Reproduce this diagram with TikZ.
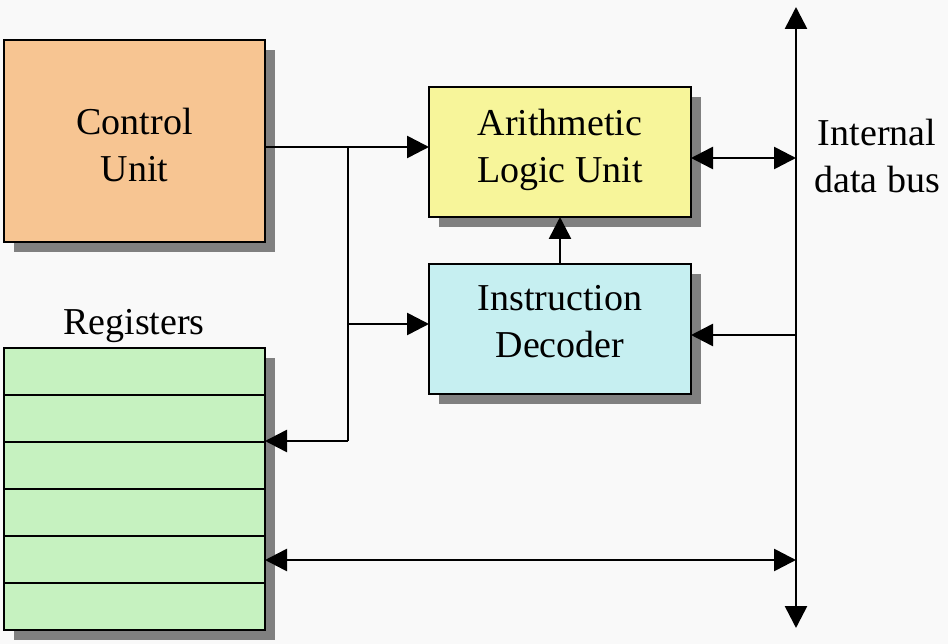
\documentclass[tikz,border=0pt]{standalone}
\usepackage{fontspec}
\setmainfont{Liberation Serif}
\usetikzlibrary{arrows.meta,shadows,calc}
\definecolor{bgc}{HTML}{F9F9F9}
\definecolor{cuorange}{HTML}{F7C592}
\definecolor{aluyellow}{HTML}{F7F59A}
\definecolor{idcyan}{HTML}{C6EFF1}
\definecolor{reggreen}{HTML}{C6F2C0}
\definecolor{shadowgray}{HTML}{808080}
\begin{document}
\begin{tikzpicture}[x=1pt,y=-1pt,line width=2.6pt,
  box/.style={draw=black,line width=2.6pt,rectangle,inner sep=0pt,outer sep=0pt,
    general shadow={fill=shadowgray,shadow xshift=10pt,shadow yshift=-10pt}},
  lbl/.style={font=\fontsize{38}{47}\selectfont,align=center,inner sep=0pt},
  tip/.style={-{Triangle[length=22pt,width=22pt]}},
  bitip/.style={{Triangle[length=22pt,width=22pt]}-{Triangle[length=22pt,width=22pt]}}
]
\fill[bgc] (0,0) rectangle (948,644);
\useasboundingbox (0,0) rectangle (948,644);

% boxes
\node[box,fill=cuorange,minimum width=261pt,minimum height=202pt] (cu) at (134.5,141) {};
\node[box,fill=aluyellow,minimum width=262pt,minimum height=130pt] (alu) at (560,152) {};
\node[box,fill=idcyan,minimum width=262pt,minimum height=130pt] (id) at (560,329) {};
\node[box,fill=reggreen,minimum width=261pt,minimum height=282pt] (reg) at (134.5,489) {};
\foreach \i in {1,...,5}
  \draw ($(reg.north west)!\i/6!(reg.south west)$) -- ($(reg.north east)!\i/6!(reg.south east)$);

% texts
\node[lbl] (cutext) at (134.5,145.5) {Control\\Unit};
\node[lbl] (alutext) at (560,149.5) {Arithmetic\\Logic Unit};
\node[lbl] (idtext) at (560,322) {Instruction\\Decoder};
\node[lbl,anchor=base] (regtext) at (134,335) {Registers};
\node[lbl] (bustext) at (877,156) {Internal\\data bus};

% control lines
\coordinate (j1) at (348,147);
\coordinate (j2) at (348,324);
\coordinate (j3) at (348,441);
\draw[tip] (cu.east |- j1) -- (alu.west |- j1);
\draw (j1) -- (j3);
\draw[tip] (j2) -- (id.west |- j2);
\draw[tip] (j3) -- (reg.east |- j3);
\draw[tip] (id.north) -- (alu.south);

% bus
\coordinate (btop) at (796,7);
\coordinate (bbot) at (796,628);
\draw[bitip] (btop) -- (bbot);
\coordinate (b1) at (796,158);
\coordinate (b2) at (796,335);
\coordinate (b3) at (796,560);
\draw[bitip] (alu.east |- b1) -- (b1);
\draw[tip] (b2) -- (id.east |- b2);
\draw[bitip] (reg.east |- b3) -- (b3);
\end{tikzpicture}
\end{document}
